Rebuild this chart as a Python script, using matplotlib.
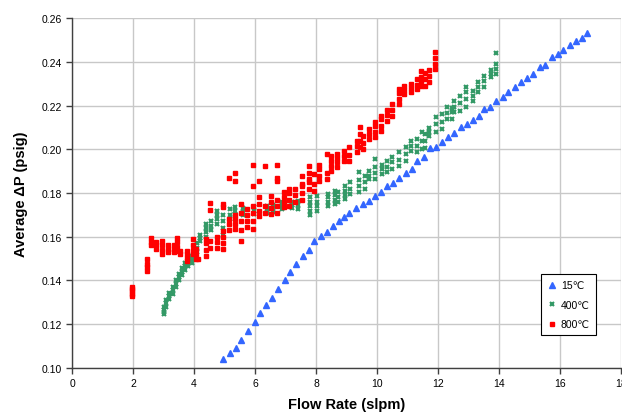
import matplotlib
matplotlib.use('Agg')
import matplotlib.pyplot as plt

plt.rcParams['font.family'] = ['Liberation Sans', 'DejaVu Sans']

# ---------------- data ----------------
x_ticks = [0, 2, 4, 6, 8, 10, 12, 14, 16, 18]
y_ticks = [0.10, 0.12, 0.14, 0.16, 0.18, 0.20, 0.22, 0.24, 0.26]
series_labels = ['15\u2103', '400\u2103', '800\u2103']

blue_x = [4.96, 5.18, 5.37, 5.54, 5.77, 5.99, 6.16, 6.36, 6.57, 6.75, 6.97, 7.16, 7.34, 7.56,
          7.77, 7.95, 8.15, 8.35, 8.55, 8.74, 8.92, 9.08, 9.32, 9.55, 9.75, 9.93, 10.12, 10.34,
          10.54, 10.73, 10.95, 11.14, 11.32, 11.53, 11.73, 11.93, 12.13, 12.34, 12.52, 12.74,
          12.94, 13.14, 13.33, 13.51, 13.70, 13.90, 14.12, 14.31, 14.52, 14.72, 14.93, 15.10,
          15.34, 15.52, 15.73, 15.92, 16.11, 16.33, 16.51, 16.71, 16.90]
blue_y = [0.104, 0.107, 0.109, 0.113, 0.117, 0.121, 0.125, 0.129, 0.132, 0.136, 0.140, 0.144,
          0.1476, 0.151, 0.154, 0.158, 0.1605, 0.162, 0.165, 0.167, 0.169, 0.171, 0.173, 0.175,
          0.1765, 0.1788, 0.1806, 0.183, 0.1846, 0.1867, 0.189, 0.191, 0.1948, 0.1963, 0.2004,
          0.2009, 0.2032, 0.2055, 0.2074, 0.210, 0.2116, 0.2135, 0.215, 0.2184, 0.2195, 0.222,
          0.224, 0.226, 0.2286, 0.2309, 0.2325, 0.2344, 0.2375, 0.2385, 0.242, 0.2435, 0.2455,
          0.2477, 0.2493, 0.2507, 0.253]

green_x = [3.00, 3.08, 3.19, 3.30, 3.40, 3.50, 3.60, 3.70, 3.81, 3.92, 4.03, 4.10, 4.18, 4.39,
           4.55, 4.76, 4.96, 5.18, 5.34, 5.62, 5.97, 6.38, 6.60, 6.90, 7.20, 7.42, 7.80, 8.02,
           8.40, 8.62, 8.73, 8.95, 9.11, 9.40, 9.60, 9.75, 9.93, 10.15, 10.33, 10.50, 10.73,
           10.95, 11.11, 11.30, 11.47, 11.57, 11.72, 11.93, 12.12, 12.30, 12.45, 12.52, 12.72,
           12.92, 13.14, 13.30, 13.50, 13.73, 13.90]
green_y = [[0.1245, 0.1255, 0.1265, 0.128], [0.128, 0.1295, 0.131], [0.1315, 0.133, 0.1345],
           [0.134, 0.1355, 0.137], [0.137, 0.1385, 0.140], [0.140, 0.1415, 0.143],
           [0.1425, 0.144, 0.1455], [0.145, 0.1465, 0.148], [0.1465, 0.148, 0.1495],
           [0.148, 0.1495, 0.151], [0.150, 0.152, 0.154], [0.153, 0.155, 0.157],
           [0.158, 0.1595, 0.161], [0.160, 0.162, 0.164, 0.166], [0.163, 0.165, 0.167],
           [0.166, 0.168, 0.170, 0.172], [0.161, 0.164, 0.167, 0.170], [0.168, 0.170, 0.1725],
           [0.1705, 0.172, 0.1735], [0.170, 0.1715, 0.173], [0.1705, 0.172, 0.1735],
           [0.171, 0.1725, 0.174], [0.1715, 0.173, 0.1745], [0.1727, 0.174, 0.1757],
           [0.173, 0.1745, 0.176], [0.1727, 0.1745, 0.1765], [0.170, 0.172, 0.174, 0.176, 0.178],
           [0.172, 0.174, 0.176, 0.1788], [0.1742, 0.176, 0.178, 0.1796], [0.175, 0.177, 0.179, 0.181],
           [0.176, 0.178, 0.1805], [0.1773, 0.179, 0.181, 0.1834], [0.1796, 0.182, 0.185],
           [0.1805, 0.183, 0.186, 0.1896], [0.182, 0.185, 0.188], [0.1864, 0.188, 0.190],
           [0.1864, 0.189, 0.192, 0.1955], [0.1886, 0.191, 0.193], [0.1896, 0.192, 0.1945],
           [0.191, 0.194, 0.1965], [0.1924, 0.195, 0.1987], [0.1946, 0.198, 0.201],
           [0.1994, 0.2015, 0.204], [0.1987, 0.2015, 0.2047], [0.200, 0.204, 0.208],
           [0.2005, 0.204, 0.207], [0.206, 0.208, 0.2097], [0.208, 0.2115, 0.2147],
           [0.2093, 0.2125, 0.216], [0.2138, 0.2165, 0.2193], [0.214, 0.217, 0.219],
           [0.2169, 0.2195, 0.2222], [0.2175, 0.221, 0.2243], [0.2193, 0.223, 0.226, 0.2285],
           [0.2222, 0.2245, 0.2268], [0.2262, 0.2285, 0.2307], [0.2285, 0.231, 0.2336],
           [0.2329, 0.2345, 0.2364], [0.2344, 0.2365, 0.239, 0.2439]]

red_x = [1.96, 2.47, 2.58, 2.74, 2.96, 3.16, 3.35, 3.45, 3.55, 3.77, 3.96, 4.05, 4.14, 4.40,
         4.52, 4.75, 4.94, 5.16, 5.34, 5.55, 5.74, 5.93, 6.14, 6.33, 6.52, 6.71, 6.95, 7.10,
         7.30, 7.53, 7.78, 7.95, 8.10, 8.35, 8.49, 8.70, 8.92, 9.09, 9.34, 9.44, 9.55, 9.75,
         9.93, 10.13, 10.33, 10.50, 10.73, 10.89, 11.10, 11.30, 11.45, 11.57, 11.72, 11.90]
red_y = [[0.133, 0.134, 0.135, 0.136, 0.137], [0.1445, 0.146, 0.1475, 0.1498],
         [0.156, 0.1575, 0.1594], [0.1544, 0.156, 0.1576], [0.1521, 0.154, 0.156, 0.1582],
         [0.153, 0.1545, 0.156], [0.153, 0.1545, 0.156], [0.1536, 0.1555, 0.1575, 0.1594],
         [0.152, 0.1535], [0.149, 0.1505, 0.152, 0.1533], [0.152, 0.154, 0.156, 0.159],
         [0.150, 0.152, 0.1545], [0.150], [0.1514, 0.154, 0.157, 0.159],
         [0.155, 0.158, 0.1724, 0.1754], [0.155, 0.1575, 0.160],
         [0.1544, 0.157, 0.160, 0.1628, 0.1735, 0.175], [0.163, 0.166, 0.168, 0.187],
         [0.1636, 0.166, 0.168, 0.170, 0.1857, 0.189], [0.158, 0.163, 0.167, 0.171, 0.175],
         [0.1645, 0.167, 0.170, 0.1727], [0.1636, 0.167, 0.171, 0.174, 0.183, 0.193],
         [0.1697, 0.172, 0.175, 0.178, 0.1857], [0.171, 0.174, 0.1925],
         [0.1704, 0.173, 0.176, 0.1788], [0.171, 0.174, 0.177, 0.1857, 0.187, 0.193],
         [0.1736, 0.176, 0.178, 0.1805], [0.174, 0.177, 0.180, 0.182], [0.176, 0.179, 0.182],
         [0.177, 0.180, 0.183, 0.184, 0.188], [0.182, 0.185, 0.1864, 0.189, 0.1925],
         [0.181, 0.184, 0.1887], [0.1857, 0.188, 0.191, 0.193], [0.1864, 0.189, 0.1978],
         [0.1902, 0.1925, 0.1948, 0.197], [0.1918, 0.194, 0.196, 0.1978], [0.1948, 0.197, 0.1993],
         [0.1948, 0.1975, 0.201], [0.1987, 0.2015, 0.204], [0.201, 0.204, 0.207, 0.210],
         [0.200, 0.203, 0.206], [0.2047, 0.207, 0.2093], [0.2055, 0.208, 0.2105, 0.2124],
         [0.2085, 0.2108, 0.2138, 0.2153], [0.213, 0.2155, 0.218], [0.215, 0.218, 0.2207],
         [0.2207, 0.223, 0.2255, 0.2276], [0.2253, 0.2272, 0.229], [0.2262, 0.228, 0.2298],
         [0.2276, 0.2295, 0.232], [0.229, 0.231, 0.233, 0.236], [0.229, 0.232, 0.235],
         [0.2309, 0.2335, 0.2364], [0.2367, 0.239, 0.2415, 0.2446]]


def expand(xs, ys):
    px, py = [], []
    for x, group in zip(xs, ys):
        for y in group:
            px.append(x)
            py.append(y)
    return px, py


gx, gy = expand(green_x, green_y)
rx, ry = expand(red_x, red_y)

# ---------------- figure ----------------
fig = plt.figure(figsize=(6.22, 4.14), dpi=100)
ax = fig.add_axes([0.1158, 0.1087, 0.8826, 0.8454])

ax.plot(blue_x, blue_y, linestyle='none', marker='^', ms=3.8, color='#3366ff',
        mec='#3366ff', label=series_labels[0], zorder=3)
ax.plot(gx, gy, linestyle='none', marker='x', ms=3.5, mew=1.5, color='#339966',
        label=series_labels[1], zorder=3)
ax.plot(rx, ry, linestyle='none', marker='s', ms=2.2, color='#ff0000', mec='#ff0000',
        label=series_labels[2], zorder=4)

ax.set_xlim(0, 18)
ax.set_ylim(0.10, 0.26)
ax.set_xticks(x_ticks)
ax.set_yticks(y_ticks)
ax.set_xticklabels([str(t) for t in x_ticks])
ax.set_yticklabels(['%.2f' % t for t in y_ticks])
ax.tick_params(direction='out', length=4, width=1, color='#404040', labelsize=7.5,
               labelcolor='black', pad=3)

ax.grid(True, color='#c8c8c8', linewidth=1)
ax.set_axisbelow(True)
for s in ['top', 'right']:
    ax.spines[s].set_visible(False)
for s in ['left', 'bottom']:
    ax.spines[s].set_color('#404040')
    ax.spines[s].set_linewidth(1)

ax.set_xlabel('Flow Rate (slpm)', fontsize=10.5, fontweight='bold', labelpad=7)
ax.set_ylabel('Average \u0394P (psig)', fontsize=10.5, fontweight='bold', labelpad=10)

leg = ax.legend(loc='upper left', bbox_to_anchor=(0.845, 0.283), fontsize=7.5,
                frameon=True, fancybox=False, shadow=False, framealpha=1,
                edgecolor='black', handlelength=0.8, handletextpad=0.5,
                borderpad=0.6, labelspacing=0.9, markerscale=1.0)
leg.get_frame().set_linewidth(0.8)

fig.savefig('out.png', dpi=100)
